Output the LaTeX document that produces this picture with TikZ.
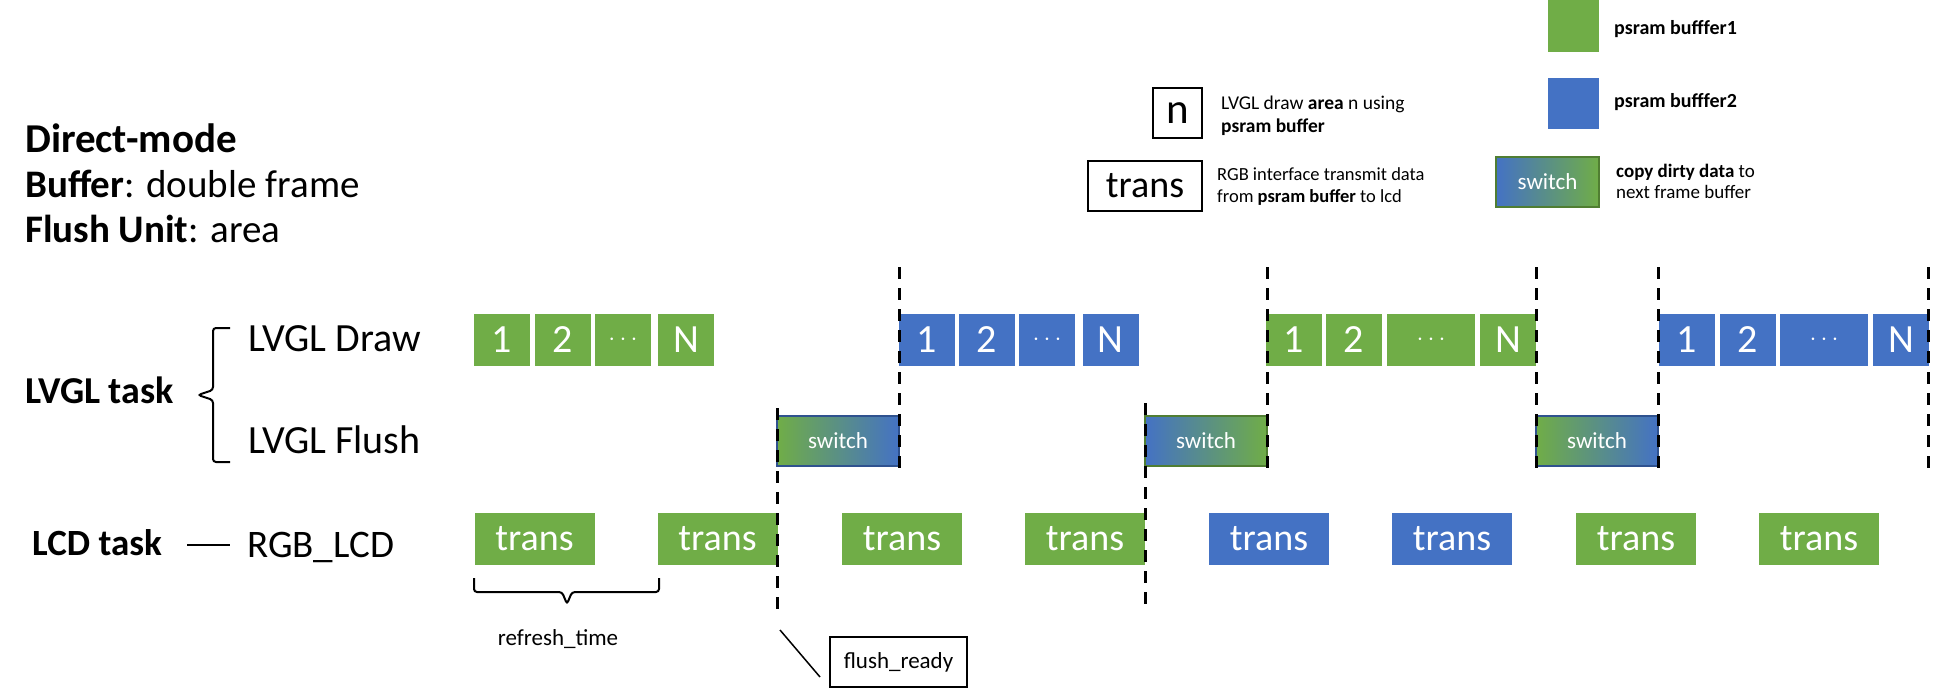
\documentclass[tikz,border=0pt]{standalone}
\usepackage{fontspec}
\setmainfont{Carlito}
\definecolor{bufgreen}{HTML}{70AD47}
\definecolor{bufblue}{HTML}{4472C4}
\definecolor{edgegreen}{HTML}{507E32}
\definecolor{edgeblue}{HTML}{2F528F}
\begin{document}
\begin{tikzpicture}[x=1pt,y=-1pt,
  txt/.style={anchor=base west, inner sep=0pt},
  drawarea/.style={fill=bufgreen, text=white, minimum width=56pt, minimum height=52pt, inner sep=0pt, font=\fontsize{40}{40}\selectfont},
  drawareab/.style={drawarea, fill=bufblue},
  transbox/.style={fill=bufgreen, text=white, minimum width=120pt, minimum height=52pt, inner sep=0pt, font=\fontsize{38}{38}\selectfont},
  transboxb/.style={transbox, fill=bufblue},
  switchbox/.style={draw, line width=2pt, text=white, minimum width=122pt, minimum height=50pt, inner sep=0pt, font=\fontsize{23}{23}\selectfont},
  gtob/.style={switchbox, left color=bufgreen, right color=bufblue, draw=edgeblue},
  btog/.style={switchbox, left color=bufblue, right color=bufgreen, draw=edgegreen},
  framemark/.style={line width=3pt, dash pattern=on 12pt off 9pt},
  keybox/.style={draw, line width=2pt, inner sep=0pt, minimum height=50pt}]
\useasboundingbox (0,0) rectangle (1938,690);

% mode
\node[txt, font=\fontsize{41}{41}\selectfont\bfseries] (mode) at (25,153) {Direct-mode};
\node[txt, font=\fontsize{39}{39}\selectfont] (buffer) at (25,197) {\textbf{Buffer}: double frame};
\node[txt, font=\fontsize{39}{39}\selectfont] (unit) at (25,242) {\textbf{Flush Unit}: area};

% legend
\node[fill=bufgreen, minimum width=51pt, minimum height=52pt, inner sep=0pt] (key1) at (1573.5,26) {};
\node[txt, font=\fontsize{20}{20}\selectfont\bfseries] (key1 txt) at (1614,35) {psram bufffer1};
\node[fill=bufblue, minimum width=51pt, minimum height=51pt, inner sep=0pt] (key2) at (1573.5,103.5) {};
\node[txt, font=\fontsize{20}{20}\selectfont\bfseries] (key2 txt) at (1614,108) {psram bufffer2};
\node[btog, minimum width=103pt, font=\fontsize{23}{23}\selectfont] (keysw) at (1547.5,182) {switch};
\node[txt, font=\fontsize{19}{19}\selectfont] (keysw txt) at (1616,177) {\textbf{copy dirty data} to};
\node[txt, font=\fontsize{19}{19}\selectfont] (keysw txt2) at (1616,198) {next frame buffer};
\node[keybox, minimum width=49pt, font=\fontsize{43}{43}\selectfont] (keyn) at (1177.5,113) {n};
\node[txt, font=\fontsize{19.5}{19.5}\selectfont] (keyn txt) at (1221,110) {LVGL draw \textbf{area} n using};
\node[txt, font=\fontsize{19.5}{19.5}\selectfont\bfseries] (keyn txt2) at (1221,132) {psram buffer};
\node[keybox, minimum width=114pt, font=\fontsize{38}{38}\selectfont] (keytr) at (1145,186) {trans};
\node[txt, font=\fontsize{18.5}{18.5}\selectfont] (keytr txt) at (1217,180) {RGB interface transmit data};
\node[txt, font=\fontsize{18.5}{18.5}\selectfont] (keytr txt2) at (1217,202) {from \textbf{psram buffer} to lcd};

% tasks
\node[txt, font=\fontsize{38}{38}\selectfont\bfseries] (lvgl) at (25,403) {LVGL task};
\node[txt, font=\fontsize{37}{37}\selectfont\bfseries] (lcd) at (32,555) {LCD task};
\node[txt, font=\fontsize{40}{40}\selectfont] (draw) at (248,351) {LVGL Draw};
\node[txt, font=\fontsize{40}{40}\selectfont] (flush) at (248,453) {LVGL Flush};
\node[txt, font=\fontsize{39}{39}\selectfont] (rgb) at (247,557) {RGB\_LCD};
\draw[line width=2pt, rounded corners=3pt] (230,328) -- (213,328) -- (213,390) -- (198,395) -- (213,400) -- (213,462) -- (230,462);
\draw[line width=2pt] (187,545) -- (230,545);

% LVGL draw
\node[drawarea] (g1) at (502,340) {1};
\node[drawarea] (g2) at (562.5,340) {2};
\node[drawarea] (g3) at (623,340) {$\cdots$};
\node[drawarea] (g4) at (686,340) {N};
\node[drawareab] (b1) at (927,340) {1};
\node[drawareab] (b2) at (986.5,340) {2};
\node[drawareab] (b3) at (1047,340) {$\cdots$};
\node[drawareab] (b4) at (1110.5,340) {N};
\node[drawarea] (h1) at (1294,340) {1};
\node[drawarea] (h2) at (1354,340) {2};
\node[drawarea, minimum width=88pt] (h3) at (1431,340) {$\cdots$};
\node[drawarea] (h4) at (1508,340) {N};
\node[drawareab] (c1) at (1686.5,340) {1};
\node[drawareab] (c2) at (1747.5,340) {2};
\node[drawareab, minimum width=88pt] (c3) at (1824,340) {$\cdots$};
\node[drawareab] (c4) at (1901,340) {N};

% LVGL flush
\node[gtob] (sw1) at (838,441) {switch};
\node[btog] (sw2) at (1206,441) {switch};
\node[gtob] (sw3) at (1597,441) {switch};

% RGB_LCD
\node[transbox] (t1) at (534.5,539) {trans};
\node[transbox] (t2) at (717.5,539) {trans};
\node[transbox] (t3) at (902,539) {trans};
\node[transbox] (t4) at (1085,539) {trans};
\node[transboxb] (t5) at (1269,539) {trans};
\node[transboxb] (t6) at (1452,539) {trans};
\node[transbox] (t7) at (1636,539) {trans};
\node[transbox] (t8) at (1819,539) {trans};

\draw[line width=2pt, rounded corners=3pt] (474,578) -- (474,592) -- (562,592) -- (567,604) -- (572,592) -- (659,592) -- (659,578);
\node[font=\fontsize{23}{23}\selectfont, anchor=base] (refresh) at (558,645) {refresh\_time};

% frame marks
\draw[framemark] (777,408) -- (777,617);
\draw[framemark] (899,267) -- (899,474);
\draw[framemark] (1145,403) -- (1145,612);
\draw[framemark] (1267,267) -- (1267,474);
\draw[framemark] (1536,267) -- (1536,474);
\draw[framemark] (1658,267) -- (1658,474);
\draw[framemark] (1928,267) -- (1928,474);

\node[keybox, minimum width=137pt, font=\fontsize{23}{23}\selectfont] (ready) at (898.5,662) {flush\_ready};
\coordinate (ready tip) at (780,630);
\coordinate (ready foot) at (820,677);
\draw[line width=1.5pt] (ready tip) -- (ready foot);
\end{tikzpicture}
\end{document}
